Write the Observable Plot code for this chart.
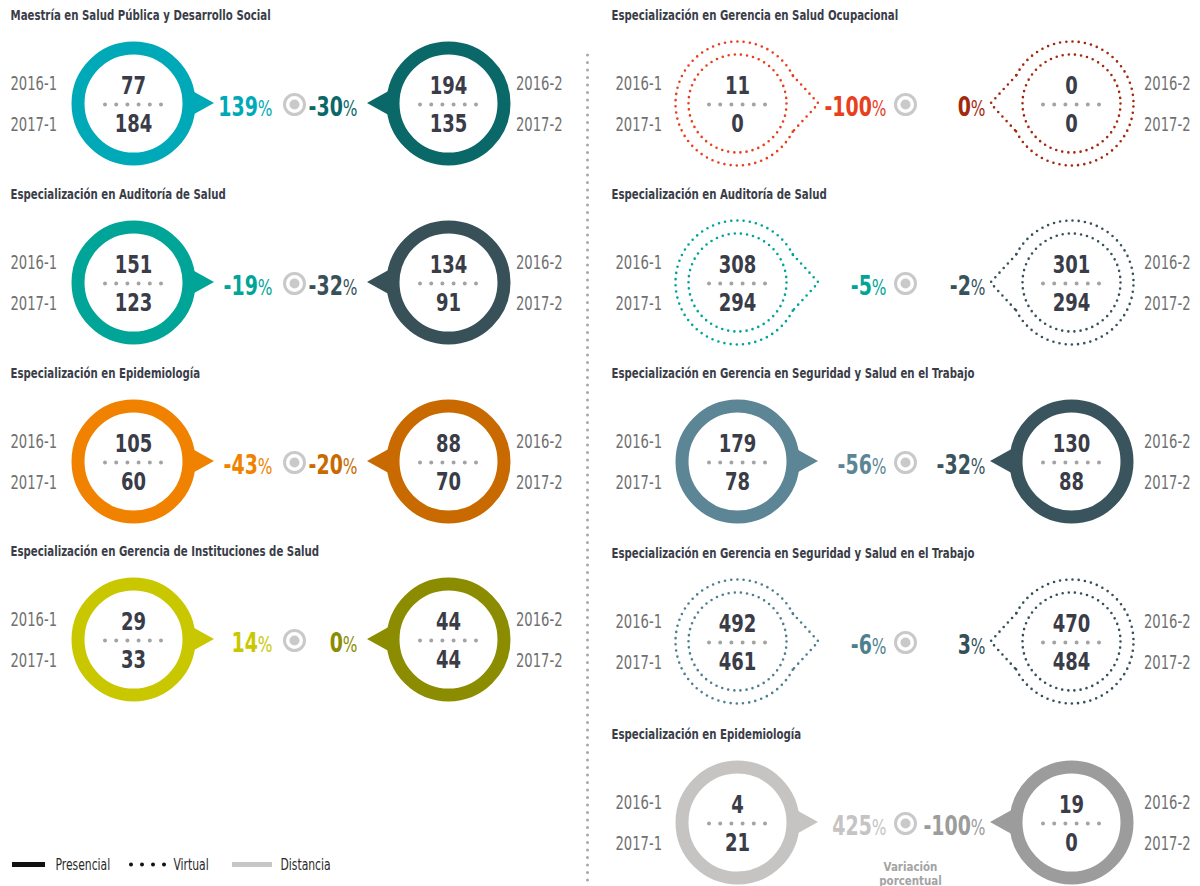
<!DOCTYPE html>
<html><head><meta charset="utf-8">
<script src="https://cdn.jsdelivr.net/npm/d3@7"></script>
<script src="https://cdn.jsdelivr.net/npm/@observablehq/plot@0.6"></script>
<style>
body{margin:0;background:#fff;}
#chart svg{display:block;}
</style></head><body><div id="chart"></div>
<script>
// ---------- data ----------
const titles = [
  "Maestría en Salud Pública y Desarrollo Social",
  "Especialización en Auditoría de Salud",
  "Especialización en Epidemiología",
  "Especialización en Gerencia de Instituciones de Salud",
  "Especialización en Gerencia en Salud Ocupacional",
  "Especialización en Auditoría de Salud",
  "Especialización en Gerencia en Seguridad y Salud en el Trabajo",
  "Especialización en Gerencia en Seguridad y Salud en el Trabajo",
  "Especialización en Epidemiología"
];
const modality = ["Presencial","Presencial","Presencial","Presencial","Virtual","Virtual","Presencial","Virtual","Distancia"];
const s2016_1 = [77, 151, 105, 29, 11, 308, 179, 492, 4];
const s2017_1 = [184, 123, 60, 33, 0, 294, 78, 461, 21];
const s2016_2 = [194, 134, 88, 44, 0, 301, 130, 470, 19];
const s2017_2 = [135, 91, 70, 44, 0, 294, 88, 484, 0];
const varSem1 = [139, -19, -43, 14, -100, -5, -56, -6, 425];
const varSem2 = [-30, -32, -20, 0, 0, -2, -32, 3, -100];
const periods = ["2016-1", "2017-1", "2016-2", "2017-2"];
const legendItems = ["Presencial", "Virtual", "Distancia"];
const variationLabel = ["Variación", "porcentual"];

// ---------- styles ----------
const palette = [
  ["#00a9b7","#0b6868"],["#00a597","#385159"],["#f08200","#c86a00"],["#c9c800","#8b8c00"],
  ["#e8401c","#a3290d"],["#00a597","#38525c"],["#5c8595","#3a545e"],["#4e7f8f","#354f5a"],
  ["#c6c3c3","#9c9c9c"]
];
const FONT = '"Liberation Sans Narrow","Arial Narrow","DejaVu Sans Condensed",sans-serif';
// horizontal squeeze per font size, to mimic the condensed typeface of the original
const squeeze = {"13.5": 0.84, "25": 0.8, "19": 0.77, "27": 0.78, "16": 0.75, "13": 0.88};

// ---------- layout ----------
const cols = [
  {title:10, labL:10, cL:133, tgt:294, cR:448, labR:562, p1:272, p2:357},
  {title:611, labL:615, cL:737, tgt:905, cR:1071, labR:1190, p1:886, p2:985}
];
const rowY = [[103,282,461,639],[103,282,461,641,822]];
const panelCol = [0,0,0,0,1,1,1,1,1];
const panelRow = [0,1,2,3,0,1,2,3,4];
const R_OUT = 62, RING_W = 13, R_MID = R_OUT - RING_W/2, R_IN = 49, TIP = 81, GAP = 27;
const legendX = [12, 130, 232];

const panels = titles.map((title, i) => {
  const L = cols[panelCol[i]];
  return {i, title, mode: modality[i], L, cy: rowY[panelCol[i]][panelRow[i]], cLeft: palette[i][0], cRight: palette[i][1]};
});
const rings = panels.flatMap(p => [
  {id: p.i + "L", x: p.L.cL, y: p.cy, side: 1, color: p.cLeft, mode: p.mode,
   top: s2016_1[p.i], bottom: s2017_1[p.i], labTop: periods[0], labBottom: periods[1], labX: p.L.labL, anchor: "start"},
  {id: p.i + "R", x: p.L.cR, y: p.cy, side: -1, color: p.cRight, mode: p.mode,
   top: s2016_2[p.i], bottom: s2017_2[p.i], labTop: periods[2], labBottom: periods[3], labX: p.L.labR, anchor: "end"}
]);
const solid = rings.filter(r => r.mode !== "Virtual");
const virt = rings.filter(r => r.mode === "Virtual");

const solidPointer = solid.flatMap(r => [
  {id: r.id, x: r.x + r.side * (R_OUT - 8), y1: r.y - 15, y2: r.y + 15, color: r.color},
  {id: r.id, x: r.x + r.side * TIP, y1: r.y, y2: r.y, color: r.color}
]);
const rad = a => a * Math.PI / 180;
const virtPointer = virt.flatMap(r => [
  {id: r.id, x: r.x + r.side * R_OUT * Math.cos(rad(GAP)), y: r.y - R_OUT * Math.sin(rad(GAP)), color: r.color},
  {id: r.id, x: r.x + r.side * TIP, y: r.y, color: r.color},
  {id: r.id, x: r.x + r.side * R_OUT * Math.cos(rad(GAP)), y: r.y + R_OUT * Math.sin(rad(GAP)), color: r.color}
]);

function ringDash(r, gapCenterDeg, halfDeg, sp) {
  const C = 2 * Math.PI * r;
  const arc = C * (360 - 2 * halfDeg) / 360;
  const n = Math.round(arc / sp) + 1;
  const step = arc / (n - 1);
  const arr = [];
  for (let k = 0; k < n - 1; k++) arr.push(0, step);
  arr.push(0, C - arc);
  const start = r * rad(gapCenterDeg + halfDeg);
  const offset = ((C - start) % C + C) % C;
  return {dash: arr.join(" "), offset};
}
const dRight = ringDash(R_OUT, 0, GAP, 6.2);
const dLeft = ringDash(R_OUT, 180, GAP, 6.2);
const innerSp = (2 * Math.PI * R_IN) / Math.round(2 * Math.PI * R_IN / 6.2);

const pct = panels.flatMap(p => [
  {x: p.L.p1, y: p.cy, v: varSem1[p.i], color: p.cLeft},
  {x: p.L.p2, y: p.cy, v: varSem2[p.i], color: p.cRight}
]);

const legend = legendItems.map((name, i) => ({name, x: legendX[i]}));

const chart = Plot.plot({
  width: 1200, height: 886, margin: 0,
  x: {domain: [0, 1200], range: [0, 1200], axis: null},
  y: {domain: [0, 886], range: [0, 886], axis: null},
  color: {type: "identity"},
  style: {fontFamily: FONT, background: "white", overflow: "visible"},
  marks: [
    // column separator
    Plot.ruleX([{x: 587, y1: 55, y2: 886}], {x: "x", y1: "y1", y2: "y2", stroke: "#a8a8a8", strokeWidth: 3, strokeDasharray: "0 7.5", strokeLinecap: "round"}),
    // titles
    Plot.text(panels, {x: d => d.L.title, y: d => d.cy - 88, text: "title", textAnchor: "start", fontSize: 13.5, fontWeight: "bold", fill: "#3a3d48"}),
    // solid rings & pointers
    Plot.areaY(solidPointer, {x: "x", y1: "y1", y2: "y2", z: "id", fill: "color"}),
    Plot.dot(solid, {x: "x", y: "y", r: R_MID, stroke: "color", strokeWidth: RING_W, fill: "none"}),
    // virtual rings & pointers
    Plot.dot(virt.filter(d => d.side === 1), {x: "x", y: "y", r: R_OUT, stroke: "color", strokeWidth: 2.6, fill: "none",
      strokeDasharray: dRight.dash, strokeDashoffset: dRight.offset, strokeLinecap: "round"}),
    Plot.dot(virt.filter(d => d.side === -1), {x: "x", y: "y", r: R_OUT, stroke: "color", strokeWidth: 2.6, fill: "none",
      strokeDasharray: dLeft.dash, strokeDashoffset: dLeft.offset, strokeLinecap: "round"}),
    Plot.dot(virt, {x: "x", y: "y", r: R_IN, stroke: "color", strokeWidth: 2.6, fill: "none",
      strokeDasharray: `0 ${innerSp}`, strokeLinecap: "round"}),
    Plot.line(virtPointer, {x: "x", y: "y", z: "id", stroke: "color", strokeWidth: 2.6, strokeDasharray: "0 6.2", strokeLinecap: "round"}),
    // inner dotted separator
    Plot.ruleY(rings, {y: d => d.y + 1, x1: d => d.x - 28, x2: d => d.x + 28, stroke: "#a3a3a3", strokeWidth: 4, strokeDasharray: "0 11.2", strokeLinecap: "round"}),
    // values
    Plot.text(rings, {x: "x", y: d => d.y - 18, text: d => String(d.top), fontSize: 25, fontWeight: "bold", fill: "#3a3c48"}),
    Plot.text(rings, {x: "x", y: d => d.y + 20, text: d => String(d.bottom), fontSize: 25, fontWeight: "bold", fill: "#3a3c48"}),
    // period labels
    Plot.text(rings.filter(d => d.anchor === "start"), {x: "labX", y: d => d.y - 20, text: "labTop", textAnchor: "start", fontSize: 19, fill: "#707070"}),
    Plot.text(rings.filter(d => d.anchor === "start"), {x: "labX", y: d => d.y + 21, text: "labBottom", textAnchor: "start", fontSize: 19, fill: "#707070"}),
    Plot.text(rings.filter(d => d.anchor === "end"), {x: "labX", y: d => d.y - 20, text: "labTop", textAnchor: "end", fontSize: 19, fill: "#707070"}),
    Plot.text(rings.filter(d => d.anchor === "end"), {x: "labX", y: d => d.y + 21, text: "labBottom", textAnchor: "end", fontSize: 19, fill: "#707070"}),
    // percentage variation
    Plot.text(pct, {x: "x", y: d => d.y + 12, text: d => `${d.v}%`, textAnchor: "end", lineAnchor: "bottom", fontSize: 27, fontWeight: "bold", fill: "color"}),
    // target icons
    Plot.dot(panels, {x: d => d.L.tgt, y: d => d.cy + 1, r: 10, stroke: "#c9c9c9", strokeWidth: 3, fill: "none"}),
    Plot.dot(panels, {x: d => d.L.tgt, y: d => d.cy + 1, r: 5, fill: "#c9c9c9"}),
    // "Variación porcentual"
    Plot.text(variationLabel, {x: () => 910, y: (d, i) => 866 + i * 14, text: d => d, fontSize: 13, fontWeight: "bold", fill: "#a3a3a3"}),
    // legend
    Plot.ruleY([legend[0]], {y: () => 864, x1: d => d.x, x2: d => d.x + 33, stroke: "#111", strokeWidth: 5}),
    Plot.ruleY([legend[1]], {y: () => 864, x1: d => d.x + 1, x2: d => d.x + 35, stroke: "#111", strokeWidth: 4, strokeDasharray: "0 11", strokeLinecap: "round"}),
    Plot.ruleY([legend[2]], {y: () => 864, x1: d => d.x, x2: d => d.x + 40, stroke: "#c8c6c6", strokeWidth: 5}),
    Plot.text(legend, {x: d => d.x + (d.name === "Distancia" ? 48 : 43), y: () => 864, text: "name", textAnchor: "start", fontSize: 16, fill: "#2a2a2a"})
  ]
});
document.getElementById("chart").append(chart);

// percent sign: lighter and smaller than the number, as in the original
const ns = "http://www.w3.org/2000/svg";
chart.querySelectorAll("text").forEach(t => {
  const g = t.closest("[font-size]");
  if (!g || parseFloat(g.getAttribute("font-size")) !== 27) return;
  const s = t.textContent;
  if (!s.endsWith("%")) return;
  t.textContent = "";
  const a = document.createElementNS(ns, "tspan"); a.textContent = s.slice(0, -1);
  const b = document.createElementNS(ns, "tspan"); b.textContent = "%";
  b.setAttribute("font-size", "22"); b.setAttribute("font-weight", "normal");
  t.append(a, b);
});
// condense glyphs horizontally about each text's anchor point
// (no condensed face of the original typeface is installed)
chart.querySelectorAll("text").forEach(t => {
  const g = t.closest("[font-size]");
  const fs = g ? parseFloat(g.getAttribute("font-size")) : NaN;
  const k = squeeze[String(fs)];
  if (!k) return;
  const tr = t.getAttribute("transform");
  if (tr) {
    t.setAttribute("transform", `${tr} scale(${k},1)`);
  } else {
    const x = +(t.getAttribute("x") || 0);
    t.setAttribute("transform", `translate(${x},0) scale(${k},1) translate(${-x},0)`);
  }
});
</script></body></html>
